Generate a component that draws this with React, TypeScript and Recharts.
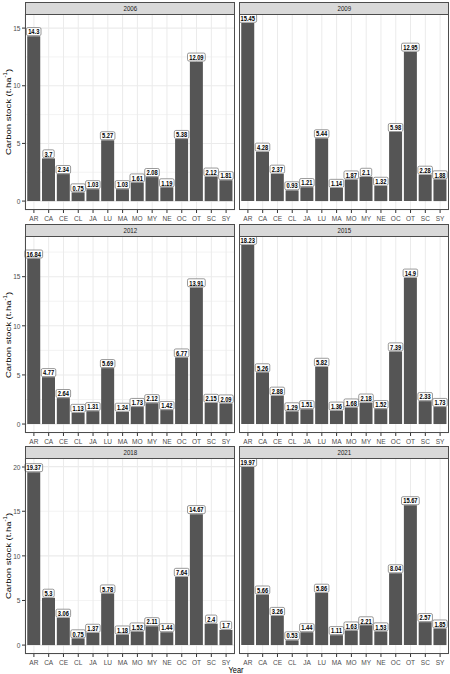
import React from "react";
import { BarChart, Bar, XAxis, YAxis, CartesianGrid, LabelList } from "recharts";

// land-use classes on the x axis
const SITES = ["AR", "CA", "CE", "CL", "JA", "LU", "MA", "MO", "MY", "NE", "OC", "OT", "SC", "SY"];

// carbon stock (t/ha) per class, one array per survey year
const STOCK_2006 = [14.3, 3.7, 2.34, 0.75, 1.03, 5.27, 1.03, 1.61, 2.08, 1.19, 5.38, 12.09, 2.12, 1.81];
const STOCK_2009 = [15.45, 4.28, 2.37, 0.93, 1.21, 5.44, 1.14, 1.87, 2.1, 1.32, 5.98, 12.95, 2.28, 1.88];
const STOCK_2012 = [16.84, 4.77, 2.64, 1.13, 1.31, 5.69, 1.24, 1.73, 2.12, 1.42, 6.77, 13.91, 2.15, 2.09];
const STOCK_2015 = [18.23, 5.26, 2.88, 1.29, 1.51, 5.82, 1.36, 1.68, 2.18, 1.52, 7.39, 14.9, 2.33, 1.73];
const STOCK_2018 = [19.37, 5.3, 3.06, 0.75, 1.37, 5.78, 1.18, 1.52, 2.11, 1.44, 7.64, 14.67, 2.4, 1.7];
const STOCK_2021 = [19.97, 5.66, 3.26, 0.53, 1.44, 5.86, 1.11, 1.63, 2.21, 1.53, 8.04, 15.67, 2.57, 1.85];

const YEARS = ["2006", "2009", "2012", "2015", "2018", "2021"];
const SERIES = [STOCK_2006, STOCK_2009, STOCK_2012, STOCK_2015, STOCK_2018, STOCK_2021];

// y ticks per facet row (majors every 5 get a label, halves are minor grid only)
const ROW_TICKS = [
  [0, 2.5, 5, 7.5, 10, 12.5, 15],
  [0, 2.5, 5, 7.5, 10, 12.5, 15, 17.5],
  [0, 2.5, 5, 7.5, 10, 12.5, 15, 17.5, 20],
];

const FONT = '"Liberation Sans", Arial, Helvetica, sans-serif';
const SQUEEZE = 0.82;
const BORDER = "#4d4d4d";

const COLS = [
  { left: 25, width: 210 },
  { left: 239, width: 210 },
];
const ROWS = [
  { top: 14, height: 196 },
  { top: 236, height: 197 },
  { top: 458, height: 196 },
];
const STRIP_H = 12;
const X_AXIS_H = 14;
const Y_AXIS_W = 25;

const labelWidth = (s: string) =>
  s.split("").reduce((w, ch) => w + (ch === "." ? 1.6 : 3.19), 0) + 3.4;

const renderLabel = (p: any) => {
  const { x, y, width, value } = p;
  const txt = String(value);
  const w = labelWidth(txt);
  const h = 8;
  const cx = x + width / 2;
  const bottom = y - 0.6;
  return (
    <g>
      <rect x={cx - w / 2} y={bottom - h} width={w} height={h} rx={1.5} fill="#fff" stroke="#6e6e6e" strokeWidth={0.7} />
      <g transform={`translate(${cx},${bottom - h / 2}) scale(${SQUEEZE},1)`}>
        <text textAnchor="middle" dominantBaseline="central" fontSize={7} fontWeight="bold" fill="#000" fontFamily={FONT}>
          {txt}
        </text>
      </g>
    </g>
  );
};

const renderYTick = (p: any) => {
  const v = p.payload.value;
  if (v % 5 !== 0) return <g />;
  return (
    <g>
      <line x1={p.x - 3} x2={p.x} y1={p.y} y2={p.y} stroke="#333" strokeWidth={1} />
      <g transform={`translate(${p.x - 4.5},${p.y}) scale(${SQUEEZE},1)`}>
        <text textAnchor="end" dominantBaseline="central" fontSize={8} fill="#4d4d4d" fontFamily={FONT}>
          {v}
        </text>
      </g>
    </g>
  );
};

const renderXTick = (p: any) => (
  <g>
    <line x1={p.x} x2={p.x} y1={p.y} y2={p.y + 3} stroke="#333" strokeWidth={1} />
    <g transform={`translate(${p.x},${p.y + 10.5}) scale(${SQUEEZE},1)`}>
      <text textAnchor="middle" fontSize={8} fill="#4d4d4d" fontFamily={FONT}>
        {p.payload.value}
      </text>
    </g>
  </g>
);

const hLine = (p: any) => (
  <line
    key={`h-${p.index}`}
    x1={p.x1}
    y1={p.y1}
    x2={p.x2}
    y2={p.y2}
    stroke="#ebebeb"
    strokeWidth={p.index % 2 ? 0.6 : 1.1}
  />
);

function Panel({ idx }: { idx: number }) {
  const col = idx % 2;
  const row = Math.floor(idx / 2);
  const c = COLS[col];
  const r = ROWS[row];
  const showY = col === 0;
  const values = SERIES[idx];
  const rowMax = Math.max(...SERIES[row * 2], ...SERIES[row * 2 + 1]);
  const domain = [-0.05 * rowMax, 1.05 * rowMax];
  const data = SITES.map((s, i) => ({ site: s, stock: values[i] }));
  const chartLeft = showY ? c.left - Y_AXIS_W : c.left;
  const chartW = c.width + (showY ? Y_AXIS_W : 0);

  return (
    <>
      <div
        style={{
          position: "absolute",
          left: c.left,
          top: r.top - STRIP_H,
          width: c.width,
          height: STRIP_H + 1,
          boxSizing: "border-box",
          background: "#d9d9d9",
          border: `1px solid ${BORDER}`,
          textAlign: "center",
          lineHeight: `${STRIP_H - 1}px`,
          fontSize: 7.5,
          fontFamily: FONT,
          color: "#1a1a1a",
        }}
      >
        <span style={{ display: "inline-block", transform: `scaleX(${SQUEEZE})` }}>{YEARS[idx]}</span>
      </div>
      <div style={{ position: "absolute", left: chartLeft, top: r.top }}>
        <BarChart
          width={chartW}
          height={r.height + X_AXIS_H}
          data={data}
          margin={{ top: 0, right: 0, bottom: 0, left: 0 }}
          barCategoryGap="5%"
          style={{ overflow: "visible" }}
        >
          <CartesianGrid stroke="#ebebeb" horizontal={hLine} />
          <XAxis
            dataKey="site"
            height={X_AXIS_H}
            padding={{ left: 1.5, right: 1.5 }}
            interval={0}
            tickSize={0}
            tickMargin={0}
            tickLine={false}
            axisLine={false}
            tick={renderXTick}
          />
          <YAxis
            type="number"
            domain={domain}
            ticks={ROW_TICKS[row]}
            allowDataOverflow
            width={showY ? Y_AXIS_W : 0}
            tickSize={0}
            tickMargin={0}
            tickLine={false}
            axisLine={false}
            tick={showY ? renderYTick : false}
          />
          <Bar dataKey="stock" fill="#555555" isAnimationActive={false}>
            <LabelList dataKey="stock" content={renderLabel} />
          </Bar>
        </BarChart>
      </div>
      <div
        style={{
          position: "absolute",
          left: c.left,
          top: r.top,
          width: c.width,
          height: r.height,
          boxSizing: "border-box",
          border: `1px solid ${BORDER}`,
          pointerEvents: "none",
        }}
      />
    </>
  );
}

export default function App() {
  return (
    <div
      style={{
        position: "absolute",
        left: 0,
        top: 0,
        width: 450,
        height: 674,
        background: "#fff",
        fontFamily: FONT,
        overflow: "hidden",
      }}
    >
      {YEARS.map((y, i) => (
        <Panel key={y} idx={i} />
      ))}
      {ROWS.map((r, i) => (
        <div
          key={i}
          style={{
            position: "absolute",
            left: 7,
            top: r.top + r.height / 2,
            transform: `translate(-50%,-50%) rotate(-90deg) scale(1,${SQUEEZE})`,
            whiteSpace: "nowrap",
            fontSize: 9.5,
            lineHeight: "10px",
            color: "#000",
          }}
        >
          Carbon stock (t.ha
          <span style={{ fontSize: 6, verticalAlign: "4px" }}>-1</span>)
        </div>
      ))}
      <div
        style={{
          position: "absolute",
          left: 236,
          top: 669.5,
          transform: `translate(-50%,-50%) scale(${SQUEEZE},1)`,
          fontSize: 9,
          lineHeight: "10px",
          color: "#000",
        }}
      >
        Year
      </div>
    </div>
  );
}
